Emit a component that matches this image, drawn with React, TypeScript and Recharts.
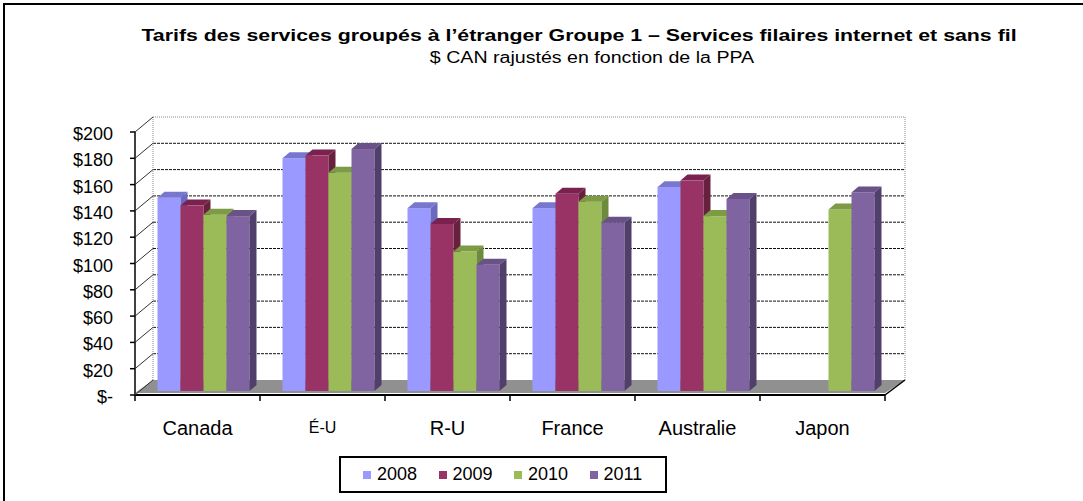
import { BarChart, Bar, XAxis, YAxis, CartesianGrid } from "recharts";

const categories = ["Canada", "É-U", "R-U", "France", "Australie", "Japon"];
const years = ["2008", "2009", "2010", "2011"];
const values2008 = [147, 177, 139, 139, 155, null];
const values2009 = [141, 179, 127, 150, 160, null];
const values2010 = [134, 166, 106, 144, 133, 138];
const values2011 = [133, 184, 96, 128, 146, 151];
const yTicks = [0, 20, 40, 60, 80, 100, 120, 140, 160, 180, 200];

const frontColors = ["#9999FF", "#993366", "#9BBB59", "#8064A2"];
const topColors = ["#7777D0", "#7A2150", "#7D9A45", "#685288"];
const sideColors = ["#6A6AC0", "#68203F", "#6E8A3C", "#503F6B"];

const seriesValues = [values2008, values2009, values2010, values2011];
const data = categories.map((name, i) => {
  const row: Record<string, string | number | null> = { name };
  years.forEach((y, s) => {
    row[y] = seriesValues[s][i];
  });
  return row;
});

const FONT = "'Liberation Sans', Arial, sans-serif";
// 3d look: bars sit a bit behind the front axis, back wall further back
const BAR_SHIFT = 5.5;
const DEPTH_X = 7;
const DEPTH_Y = 6;
const FRONT_DY = 4;
const WALL_DX = 18;
const WALL_DY = -11;
const HALF_BAND = 62.5;

const Box3D = (props: any) => {
  const { x, y, width, height, front, top, side } = props;
  if (height == null || height <= 0 || isNaN(y)) return null;
  const fx = x + BAR_SHIFT;
  const r = fx + width;
  return (
    <g>
      <rect x={fx} y={y} width={width} height={height} fill={front} />
      <polygon
        points={`${fx},${y} ${r},${y} ${r + DEPTH_X},${y - DEPTH_Y} ${fx + DEPTH_X},${y - DEPTH_Y}`}
        fill={top}
      />
      <polygon
        points={`${r},${y} ${r + DEPTH_X},${y - DEPTH_Y} ${r + DEPTH_X},${y + height - DEPTH_Y} ${r},${y + height}`}
        fill={side}
      />
    </g>
  );
};

const wallLine = (props: any) => {
  const { x1, x2, y1, y, height, index } = props;
  const bottom = y + height;
  const isTop = Math.abs(y1 - y) < 0.5;
  const isBottom = Math.abs(y1 - bottom) < 0.5;
  const bx1 = x1 + WALL_DX;
  const bx2 = x2 + WALL_DX + 2;
  const by = y1 + WALL_DY;
  if (isBottom) {
    return (
      <g key={`w${index}`}>
        <polygon
          points={`${x1},${y1 + 2} ${x2},${y1 + 2} ${bx2},${by} ${bx1},${by}`}
          fill="#909090"
        />
        <line x1={x2} y1={y1 + FRONT_DY} x2={bx2} y2={by} stroke="#000" strokeWidth={1.5} />
        <line x1={x1} y1={y1 + FRONT_DY} x2={x1} y2={y + FRONT_DY} stroke="#000" strokeWidth={1.5} />
      </g>
    );
  }
  if (isTop) {
    return (
      <g key={`w${index}`}>
        <line x1={bx1} y1={by} x2={bx2} y2={by} stroke="#888" strokeDasharray="1 1" />
        <line x1={bx1} y1={by} x2={bx1} y2={bottom + WALL_DY} stroke="#888" strokeDasharray="1 1" />
        <line x1={bx2} y1={by} x2={bx2} y2={bottom + WALL_DY} stroke="#888" strokeDasharray="1 1" />
      </g>
    );
  }
  return <line key={`w${index}`} x1={bx1} y1={by} x2={bx2} y2={by} stroke="#111" strokeDasharray="3 1" />;
};

const YTick = (props: any) => {
  const { x, y, payload } = props;
  const v = payload.value;
  const fy = y + FRONT_DY;
  const label = v === 0 ? "$-" : `$${v}`;
  return (
    <g>
      <line x1={x} y1={fy} x2={x + WALL_DX} y2={y + WALL_DY} stroke="#333" />
      <line x1={x - 5} y1={fy} x2={x} y2={fy} stroke="#000" strokeWidth={1.5} />
      <text x={x - 22} y={fy + 8} textAnchor="end" fontSize={18} fontFamily={FONT} fill="#000">
        {label}
      </text>
    </g>
  );
};

const XTick = (props: any) => {
  const { x, y, payload, index } = props;
  const name = payload.value as string;
  const small = name === "É-U";
  const fy = y + FRONT_DY;
  const last = index === categories.length - 1;
  return (
    <g>
      <line x1={x - HALF_BAND} y1={fy} x2={x + HALF_BAND} y2={fy} stroke="#000" strokeWidth={2} />
      <line x1={x - HALF_BAND} y1={fy} x2={x - HALF_BAND} y2={fy + 6} stroke="#000" strokeWidth={1.5} />
      {last && (
        <line x1={x + HALF_BAND} y1={fy} x2={x + HALF_BAND} y2={fy + 6} stroke="#000" strokeWidth={1.5} />
      )}
      <text
        x={x}
        y={y + (small ? 42 : 44)}
        textAnchor="middle"
        fontSize={small ? 16 : 20}
        fontFamily={FONT}
        fill="#000"
      >
        {name}
      </text>
    </g>
  );
};

export default function App() {
  return (
    <div style={{ position: "absolute", left: 0, top: 0, width: 1083, height: 501, background: "#fff", overflow: "hidden", fontFamily: FONT }}>
      <div
        style={{
          position: "absolute",
          left: 3,
          top: 3,
          width: 1100,
          height: 520,
          borderLeft: "2px solid #000",
          borderTop: "2px solid #000",
        }}
      />
      <div
        style={{
          position: "absolute",
          left: 79,
          width: 1000,
          top: 26,
          textAlign: "center",
          fontSize: 17,
          fontWeight: "bold",
          lineHeight: "20px",
          transform: "scaleX(1.254)",
          transformOrigin: "500px 10px",
        }}
      >
        Tarifs des services groupés à l’étranger Groupe 1 – Services filaires internet et sans fil
      </div>
      <div
        style={{
          position: "absolute",
          left: 92,
          width: 1000,
          top: 48,
          textAlign: "center",
          fontSize: 16,
          lineHeight: "20px",
          transform: "scaleX(1.225)",
          transformOrigin: "500px 10px",
        }}
      >
        $ CAN rajustés en fonction de la PPA
      </div>
      <div style={{ position: "absolute", left: 0, top: 0 }}>
        <BarChart
          width={1083}
          height={501}
          data={data}
          margin={{ top: 128, right: 198, bottom: 50, left: 0 }}
          barSize={23}
          barGap={0}
        >
          <CartesianGrid horizontal={wallLine} vertical={false} />
          <XAxis dataKey="name" height={60} axisLine={false} tickLine={false} tickSize={0} tickMargin={0} tick={<XTick />} interval={0} />
          <YAxis width={135} domain={[0, 200]} ticks={yTicks} axisLine={false} tickLine={false} tickSize={0} tickMargin={0} tick={<YTick />} interval={0} />
          {years.map((yr, s) => (
            <Bar
              key={yr}
              dataKey={yr}
              isAnimationActive={false}
              fill={frontColors[s]}
              shape={(p: any) => <Box3D {...p} front={frontColors[s]} top={topColors[s]} side={sideColors[s]} />}
            />
          ))}
        </BarChart>
      </div>
      <div
        style={{
          position: "absolute",
          left: 339,
          top: 456,
          width: 302,
          height: 33,
          border: "2px solid #000",
          display: "flex",
          alignItems: "center",
          paddingLeft: 22,
          boxSizing: "content-box",
          fontSize: 18,
        }}
      >
        {years.map((yr, s) => (
          <div key={yr} style={{ display: "flex", alignItems: "center", width: 79 }}>
            <span style={{ width: 8, height: 8, background: frontColors[s], marginRight: 6, display: "inline-block" }} />
            <span>{yr}</span>
          </div>
        ))}
      </div>
    </div>
  );
}
